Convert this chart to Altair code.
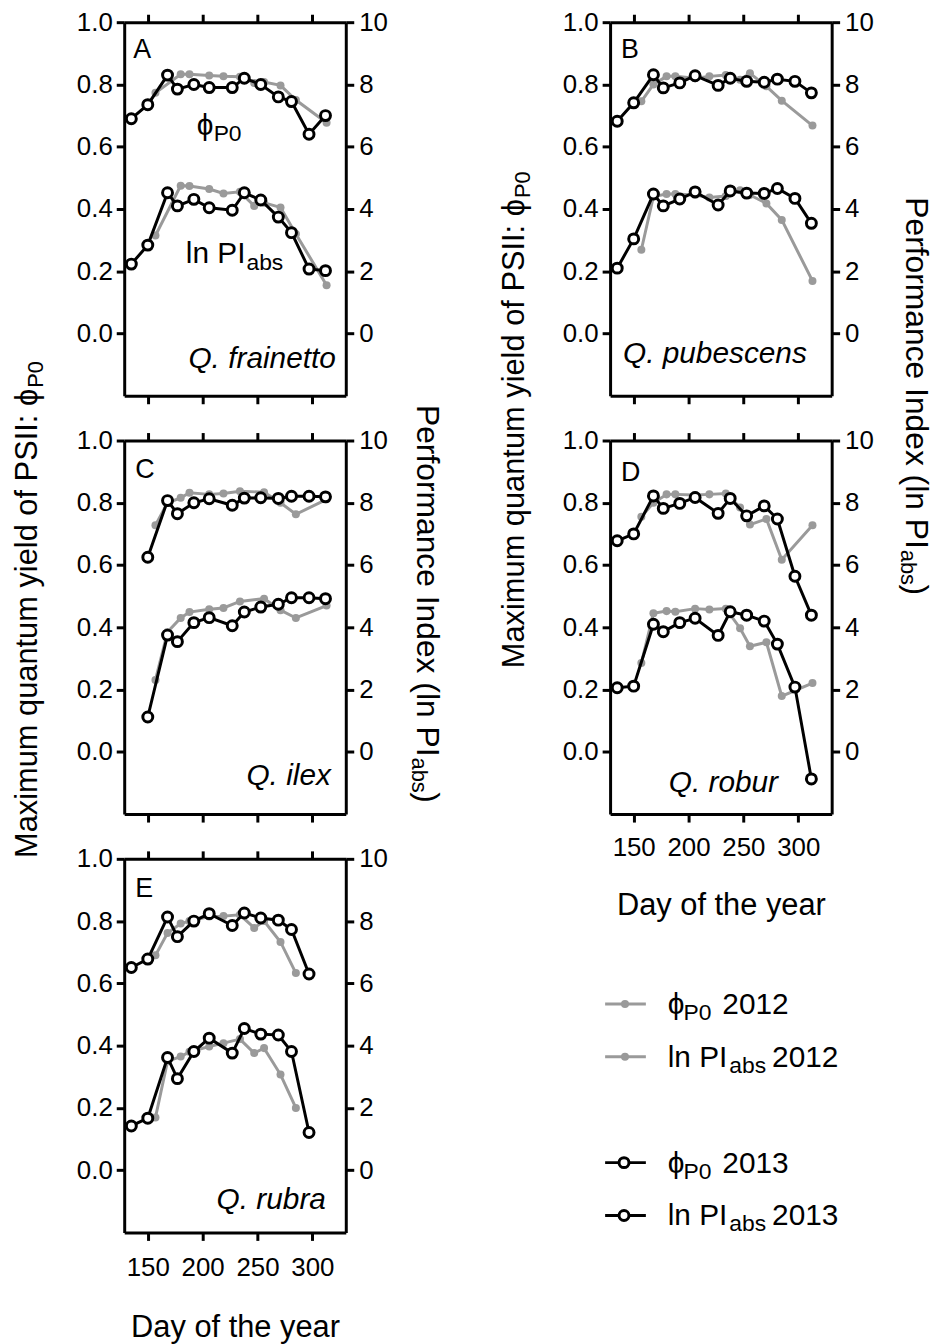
import altair as alt
import pandas as pd

FONT = "Liberation Sans"
GRAY = "#9a9a9a"
W, H = 223, 376
XDOM = [128.5, 330.5]
XT = [150, 200, 250, 300]
PHI = "\u03d5"

# ---- sampling days ----
days_2013 = [135, 150, 168, 177, 192, 206, 227, 238, 253, 269, 281, 297, 312]
days_2012 = [157, 168, 180, 188, 206, 219, 234, 247, 256, 271, 285, 313]

# ---- A: Q. frainetto ----
frainetto_phi_2013 = [0.69, 0.735, 0.83, 0.785, 0.80, 0.79, 0.79, 0.82, 0.80, 0.76, 0.745, 0.64, 0.70]
frainetto_pi_2013 = [2.23, 2.84, 4.52, 4.10, 4.31, 4.04, 3.96, 4.52, 4.29, 3.74, 3.24, 2.07, 2.02]
frainetto_phi_2012 = [0.773, None, 0.833, 0.833, 0.829, 0.826, 0.825, 0.805, 0.808, 0.797, 0.75, 0.677]
frainetto_pi_2012 = [3.15, None, 4.75, 4.74, 4.64, 4.50, 4.55, 4.10, 4.20, 4.05, 3.20, 1.55]

# ---- B: Q. pubescens ----
pubescens_phi_2013 = [0.682, 0.741, 0.831, 0.789, 0.805, 0.828, 0.797, 0.82, 0.81, 0.807, 0.817, 0.81, 0.773]
pubescens_pi_2013 = [2.10, 3.04, 4.48, 4.10, 4.32, 4.55, 4.13, 4.58, 4.51, 4.50, 4.66, 4.34, 3.54]
pubescens_phi_2012 = [0.746, 0.80, 0.826, 0.826, 0.82, 0.826, 0.83, 0.815, 0.836, 0.794, 0.748, 0.668]
pubescens_pi_2012 = [2.69, 4.40, 4.48, 4.48, 4.45, 4.37, 4.42, 4.60, 4.45, 4.18, 3.65, 1.69]

# ---- C: Q. ilex ----
ilex_phi_2013 = [None, 0.625, 0.807, 0.765, 0.80, 0.813, 0.792, 0.815, 0.816, 0.814, 0.821, 0.821, 0.819]
ilex_pi_2013 = [None, 1.12, 3.75, 3.54, 4.15, 4.31, 4.05, 4.49, 4.65, 4.74, 4.95, 4.95, 4.92]
ilex_phi_2012 = [0.728, 0.80, 0.816, 0.832, 0.827, 0.83, 0.837, None, 0.834, 0.80, 0.763, 0.811]
ilex_pi_2012 = [2.31, 3.85, 4.30, 4.49, 4.58, 4.62, 4.83, None, 4.92, 4.55, 4.30, 4.70]

# ---- D: Q. robur ----
robur_phi_2013 = [0.678, 0.70, 0.822, 0.782, 0.798, 0.817, 0.766, 0.814, 0.758, 0.79, 0.748, 0.564, 0.439]
robur_pi_2013 = [2.06, 2.11, 4.10, 3.86, 4.15, 4.29, 3.74, 4.50, 4.39, 4.20, 3.46, 2.08, -0.87]
robur_phi_2012 = [0.755, 0.80, 0.827, 0.827, 0.825, 0.827, 0.83, 0.785, 0.73, 0.748, 0.617, 0.728]
robur_pi_2012 = [2.85, 4.45, 4.52, 4.50, 4.60, 4.57, 4.60, 3.97, 3.39, 3.52, 1.79, 2.21]

# ---- E: Q. rubra ----
rubra_phi_2013 = [0.651, 0.678, 0.813, 0.75, 0.80, 0.824, 0.786, 0.826, 0.81, 0.803, 0.773, 0.63, None]
rubra_pi_2013 = [1.42, 1.67, 3.62, 2.94, 3.81, 4.24, 3.76, 4.55, 4.37, 4.34, 3.81, 1.21, None]
rubra_phi_2012 = [0.69, 0.762, 0.792, 0.80, 0.815, 0.816, 0.82, 0.778, 0.80, 0.733, 0.633, None]
rubra_pi_2012 = [1.69, 3.50, 3.65, 3.80, 3.97, 4.08, 4.21, 3.76, 3.92, 3.07, 2.00, None]

panel_keys = ["A", "B", "C", "D", "E"]
species_names = ["Q. frainetto", "Q. pubescens", "Q. ilex", "Q. robur", "Q. rubra"]
series = {
    "A": (frainetto_phi_2012, frainetto_pi_2012, frainetto_phi_2013, frainetto_pi_2013),
    "B": (pubescens_phi_2012, pubescens_pi_2012, pubescens_phi_2013, pubescens_pi_2013),
    "C": (ilex_phi_2012, ilex_pi_2012, ilex_phi_2013, ilex_pi_2013),
    "D": (robur_phi_2012, robur_pi_2012, robur_phi_2013, robur_pi_2013),
    "E": (rubra_phi_2012, rubra_pi_2012, rubra_phi_2013, rubra_pi_2013),
}

# legend rows
legend_slots = ["phi2012", "pi2012", "gap", "phi2013", "pi2013"]
legend_main = [PHI, "ln PI", "", PHI, "ln PI"]
legend_sub = ["P0", "abs", "", "P0", "abs"]
legend_year = ["2012", "2012", "", "2013", "2013"]
legend_kind = ["phi", "pi", "gap", "phi", "pi"]

rows = []
for key in panel_keys:
    phi12, pi12, phi13, pi13 = series[key]
    for metric, year, days, vals in [("phi", "2012", days_2012, phi12), ("pi", "2012", days_2012, pi12),
                                     ("phi", "2013", days_2013, phi13), ("pi", "2013", days_2013, pi13)]:
        for d, v in zip(days, vals):
            if v is not None:
                rows.append({"panel": key, "metric": metric, "year": year, "day": d, "value": v})
df = pd.DataFrame(rows)

AX = dict(tickColor="black", domainColor="black", labelColor="black", titleColor="black",
          tickWidth=3, tickSize=8, domainWidth=3, grid=False, labelFont=FONT, titleFont=FONT,
          labelFontSize=26, titleFontSize=31, titleFontWeight="normal")


def txt(s, x, y, size, **kw):
    return alt.Chart(pd.DataFrame({"t": [s]})).mark_text(
        fontSize=size, font=FONT, color="black", **kw
    ).encode(x=alt.value(x), y=alt.value(y), text="t:N")


xs = alt.Scale(domain=XDOM, nice=False, zero=False)
ys_phi = alt.Scale(domain=[-0.2, 1.0], nice=False, zero=False)
ys_pi = alt.Scale(domain=[-2, 10], nice=False, zero=False)

annot = {
    # letter (x, baseline), species (right x, baseline)
    "A": ((9, 36), (213, 348)),
    "B": ((11, 36), (198, 343)),
    "C": ((11, 38), (208, 347)),
    "D": ((11, 41), (169, 354)),
    "E": ((11, 38), (203, 352)),
}
# bottom-axis (labelPadding, titlePadding) for the panels that carry labels
bottom_pad = {"D": (13, 30), "E": (14, 33)}


def panel(key, species, extra):
    d = df[df.panel == key]
    base = alt.Chart(d)
    bottom = key in bottom_pad
    if bottom:
        lp, tp = bottom_pad[key]
        xb_kw = dict(orient="bottom", values=XT, labels=True, labelPadding=lp,
                     title="Day of the year", titlePadding=tp, **AX)
    else:
        xb_kw = dict(orient="bottom", values=XT, labels=False, title="", **AX)
    x_bottom = alt.X("day:Q", scale=xs, axis=alt.Axis(**xb_kw))
    x_top = alt.X("day:Q", scale=xs, axis=alt.Axis(orient="top", values=XT, labels=False, title="", **AX))
    x_none = alt.X("day:Q", scale=xs, axis=None)
    y_phi = alt.Y("value:Q", scale=ys_phi,
                  axis=alt.Axis(orient="left", values=[0, 0.2, 0.4, 0.6, 0.8, 1.0], format=".1f",
                                title="", labelPadding=4, **AX))
    y_phi_n = alt.Y("value:Q", scale=ys_phi, axis=None)
    y_pi = alt.Y("value:Q", scale=ys_pi,
                 axis=alt.Axis(orient="right", values=[0, 2, 4, 6, 8, 10], format="d",
                               title="", labelPadding=5, **AX))
    y_pi_n = alt.Y("value:Q", scale=ys_pi, axis=None)

    gray_pt = alt.OverlayMarkDef(filled=True, color=GRAY, size=65, opacity=1)
    black_pt = alt.OverlayMarkDef(filled=True, fill="white", stroke="black", strokeWidth=3, size=100, opacity=1)

    phi12 = base.transform_filter("datum.metric == 'phi' && datum.year == '2012'").mark_line(
        color=GRAY, strokeWidth=3, point=gray_pt).encode(x=x_bottom, y=y_phi)
    pi12 = base.transform_filter("datum.metric == 'pi' && datum.year == '2012'").mark_line(
        color=GRAY, strokeWidth=3, point=gray_pt).encode(x=x_top, y=y_pi)
    phi13 = base.transform_filter("datum.metric == 'phi' && datum.year == '2013'").mark_line(
        color="black", strokeWidth=3, point=black_pt).encode(x=x_none, y=y_phi_n)
    pi13 = base.transform_filter("datum.metric == 'pi' && datum.year == '2013'").mark_line(
        color="black", strokeWidth=3, point=black_pt).encode(x=x_none, y=y_pi_n)

    (lx, ly), (sx, sy) = annot[key]
    texts = [
        txt(key, lx, ly, 27, align="left", baseline="alphabetic"),
        txt(species, sx, sy, 30, align="right", baseline="alphabetic", fontStyle="italic"),
    ] + extra
    return alt.layer(phi12, pi12, phi13, pi13, *texts).resolve_scale(
        y="independent").resolve_axis(x="independent", y="independent").properties(width=W, height=H)


A_extra = [
    txt(PHI, 73, 114, 30, align="left", baseline="alphabetic"),
    txt("P0", 90, 120, 23, align="left", baseline="alphabetic"),
    txt("ln PI", 62, 242, 30, align="left", baseline="alphabetic"),
    txt("abs", 123, 249, 23, align="left", baseline="alphabetic"),
]


def left_title(x, j):
    return [
        txt("Maximum quantum yield of PSII: " + PHI, x, j, 31, align="right", baseline="middle", angle=270),
        txt("P0", x, j - 1, 22, align="left", baseline="middle", angle=270, dy=8),
    ]


def right_title(x, j):
    return [
        txt("Performance Index (ln PI", x, j, 32, align="right", baseline="middle", angle=90),
        txt("abs", x, j + 1, 22, align="left", baseline="middle", angle=90, dy=8),
        txt(")", x, j + 36, 32, align="left", baseline="middle", angle=90),
    ]


pA = panel("A", species_names[0], A_extra)
pB = panel("B", species_names[1], left_title(-96, 178) + right_title(308, 530))
pC = panel("C", species_names[2], left_title(-97, -52) + right_title(305, 318))
pD = panel("D", species_names[3], [])
pE = panel("E", species_names[4], [])

# ---- legend (sits in the grid cell beside panel E) ----
ldf = pd.DataFrame({"slot": legend_slots, "main": legend_main, "sub": legend_sub,
                    "year": legend_year, "kind": legend_kind})
lbase = alt.Chart(ldf)
LY = alt.Y("slot:N", scale=alt.Scale(type="point", domain=legend_slots, range=[146, 359], padding=0),
           axis=None)
leg_layers = [
    lbase.transform_filter("datum.year == '2012'").mark_rule(color=GRAY, strokeWidth=3).encode(
        x=alt.value(-5), x2=alt.value(36), y=LY),
    lbase.transform_filter("datum.year == '2012'").mark_point(
        filled=True, color=GRAY, size=65, opacity=1).encode(x=alt.value(15), y=LY),
    lbase.transform_filter("datum.year == '2013'").mark_rule(color="black", strokeWidth=3).encode(
        x=alt.value(-5), x2=alt.value(36), y=LY),
    lbase.transform_filter("datum.year == '2013'").mark_point(
        shape="circle", filled=True, fill="white", stroke="black", strokeWidth=3, size=100, opacity=1).encode(
        x=alt.value(14), y=LY),
    lbase.transform_filter("datum.kind != 'gap'").mark_text(
        font=FONT, fontSize=30, align="left", baseline="alphabetic", dy=10, color="black").encode(
        x=alt.value(58), y=LY, text="main:N"),
    lbase.transform_filter("datum.kind == 'phi'").mark_text(
        font=FONT, fontSize=23, align="left", baseline="alphabetic", dy=16, color="black").encode(
        x=alt.value(74), y=LY, text="sub:N"),
    lbase.transform_filter("datum.kind == 'phi'").mark_text(
        font=FONT, fontSize=30, align="left", baseline="alphabetic", dy=10, color="black").encode(
        x=alt.value(113), y=LY, text="year:N"),
    lbase.transform_filter("datum.kind == 'pi'").mark_text(
        font=FONT, fontSize=23, align="left", baseline="alphabetic", dy=16, color="black").encode(
        x=alt.value(120), y=LY, text="sub:N"),
    lbase.transform_filter("datum.kind == 'pi'").mark_text(
        font=FONT, fontSize=30, align="left", baseline="alphabetic", dy=10, color="black").encode(
        x=alt.value(163), y=LY, text="year:N"),
]
legend = alt.layer(*leg_layers).properties(width=W, height=H)

chart = alt.concat(pA, pB, pC, pD, pE, legend, columns=2, bounds="flush",
                   spacing=alt.RowColnumber(row=45, column=266)).properties(
    padding={"left": 12, "top": 5, "right": 5, "bottom": 5}
).configure_view(strokeWidth=0).configure_text(font=FONT)

chart.save("out.html", embed_options={"renderer": "svg", "actions": False})
